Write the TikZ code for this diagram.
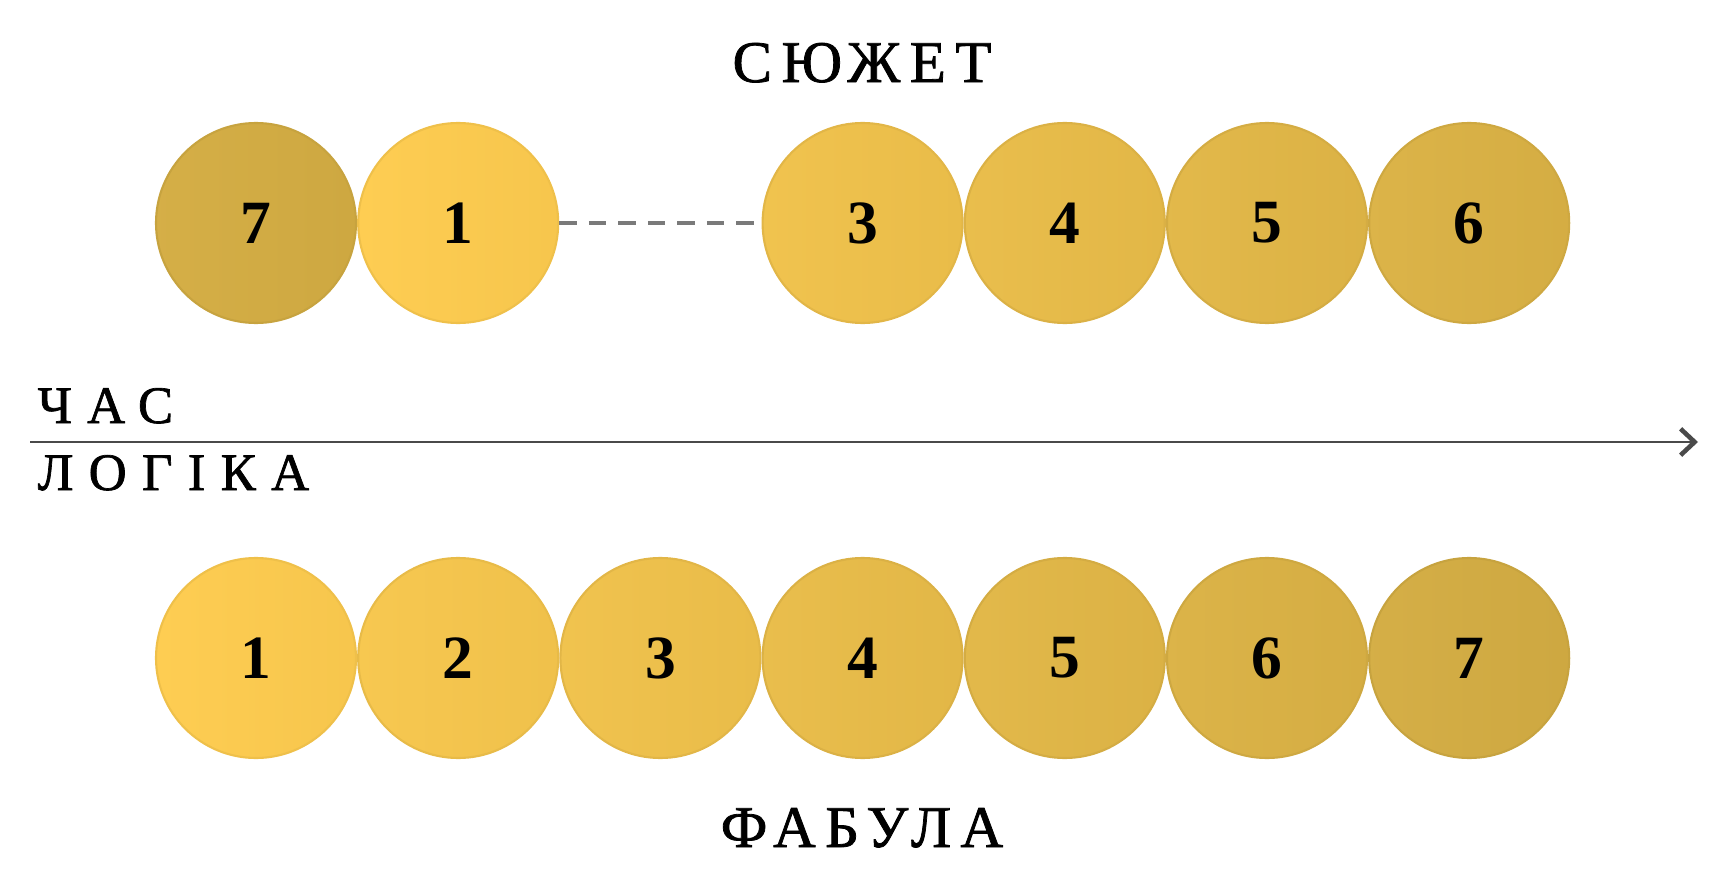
\documentclass[tikz,border=0pt]{standalone}
\usepackage{fontspec}
\setmainfont{Liberation Serif}
\newfontfamily\titlefont[LetterSpace=16, FakeBold=1.3]{Liberation Serif}
\newfontfamily\sidefont[LetterSpace=29, FakeBold=1.3]{Liberation Serif}
\usepackage{tikz}
\usepackage{xcolor}
\usetikzlibrary{
    arrows.meta,
    shapes
}
\definecolor{goldlight}{HTML}{FECC4F}
\definecolor{golddark}{HTML}{D4AD43}
\colorlet{gold1}{golddark!0!goldlight}
\colorlet{gold2}{golddark!17!goldlight}
\colorlet{gold3}{golddark!33!goldlight}
\colorlet{gold4}{golddark!50!goldlight}
\colorlet{gold5}{golddark!67!goldlight}
\colorlet{gold6}{golddark!83!goldlight}
\colorlet{gold7}{golddark!100!goldlight}
\definecolor{axisgray}{HTML}{4A4A4A}
\definecolor{dashgray}{HTML}{7A7A7A}

\begin{document}
\begin{tikzpicture}[
    ev/.style={circle, inner sep=0pt, minimum size=2.0cm, line width=0.6pt,
        left color=gold#1!98!white, right color=gold#1!97!black, draw=gold#1!94!black,
        font=\fontsize{17.5}{20}\selectfont\bfseries},
    title/.style={anchor=base, inner sep=0pt, font=\titlefont\fontsize{16.8}{20}\selectfont},
    side/.style={anchor=base west, inner sep=0pt, font=\sidefont\fontsize{15}{18}\selectfont},
    dashline/.style={dashgray, line width=0.9pt, dash pattern=on 5pt off 3.4pt},
    axis/.style={axisgray, line width=0.85pt, -{Straight Barb[length=4pt, width=7.5pt, line width=1.3pt]}}
]
            \useasboundingbox (0,0) rectangle (17.25,-8.89);

            % top row
            \node[ev=7] (s7) at ( 2.560,-2.23) {7};
            \node[ev=1] (s1) at ( 4.582,-2.23) {1};
            \node[ev=3] (s3) at ( 8.626,-2.23) {3};
            \node[ev=4] (s4) at (10.648,-2.23) {4};
            \node[ev=5] (s5) at (12.670,-2.23) {5};
            \node[ev=6] (s6) at (14.692,-2.23) {6};

            \draw[dashline] (s1)--(s3);

            % bottom row
            \node[ev=1] (f1) at ( 2.560,-6.58) {1};
            \node[ev=2] (f2) at ( 4.582,-6.58) {2};
            \node[ev=3] (f3) at ( 6.604,-6.58) {3};
            \node[ev=4] (f4) at ( 8.626,-6.58) {4};
            \node[ev=5] (f5) at (10.648,-6.58) {5};
            \node[ev=6] (f6) at (12.670,-6.58) {6};
            \node[ev=7] (f7) at (14.692,-6.58) {7};

            \coordinate (axstart) at ( 0.30,-4.42);
            \coordinate (axend)   at (16.98,-4.42);
            \draw[axis] (axstart)--(axend);

            \node[title] (syuzhet) at (8.62,-0.82) {СЮЖЕТ};
            \node[title] (fabula)  at (8.62,-8.47) {ФАБУЛА};
            \node[side]  (chas)    at (0.37,-4.23) {ЧАС};
            \node[side]  (lohika)  at (0.37,-4.90) {ЛОГІКА};
\end{tikzpicture}
\end{document}
